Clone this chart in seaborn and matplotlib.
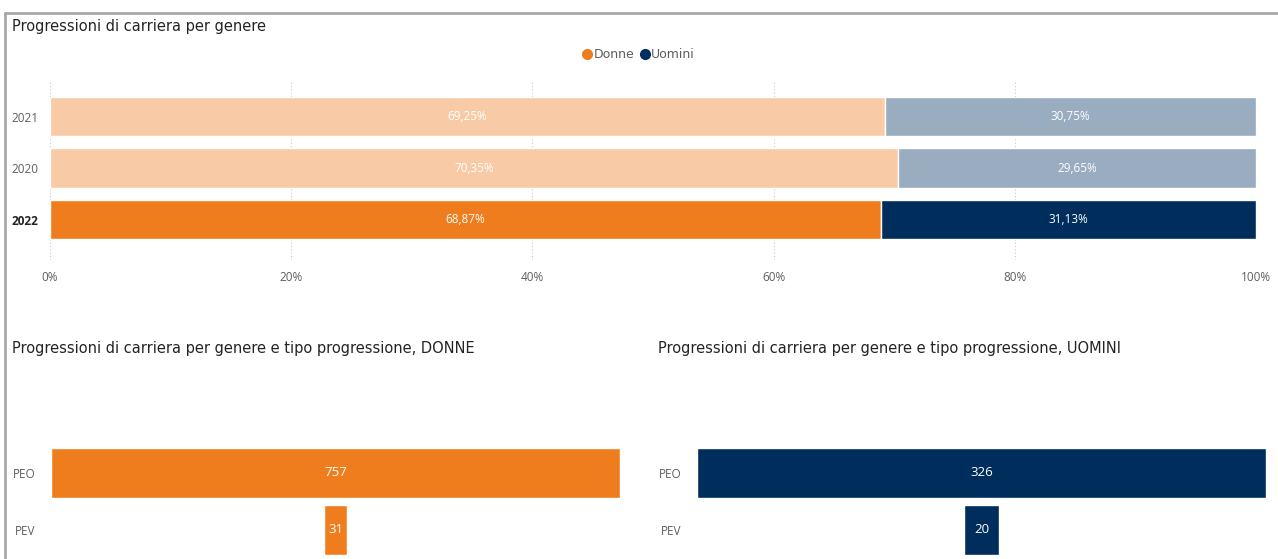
import matplotlib
matplotlib.use("Agg")
import matplotlib.pyplot as plt
from matplotlib.lines import Line2D
import seaborn as sns

# dati
anni = ["2021", "2020", "2022"]
donne_pct = [69.25, 70.35, 68.87]
uomini_pct = [30.75, 29.65, 31.13]
tipi = ["PEO", "PEV"]
donne_tipo = [757, 31]
uomini_tipo = [326, 20]
x_ticks = [0, 20, 40, 60, 80, 100]

ORANGE = "#EF7D1E"
ORANGE_LT = "#F8CBA6"
NAVY = "#002E5C"
NAVY_LT = "#9AACC0"
GREY = "#605E5C"
LBL_FONT = ["Open Sans", "DejaVu Sans"]

sns.set_theme(style="white")
plt.rcParams["font.family"] = ["Liberation Sans Narrow", "DejaVu Sans"]

W, H = 1278, 559
fig = plt.figure(figsize=(W / 100, H / 100), dpi=100)


def pct(v):
    return f"{v:.2f}".replace(".", ",") + "%"


# cornice del visual
fig.add_artist(Line2D([5 / W, 1], [1 - 13 / H] * 2, color="#A8A8A8", lw=2))
fig.add_artist(Line2D([5 / W, 5 / W], [0, 1 - 13 / H], color="#A8A8A8", lw=2))

# ---- grafico in alto: barre 100% in pila ----
ax = fig.add_axes([50 / W, 1 - 260 / H, 1206 / W, 180 / H])
pos = list(range(len(anni)))
for i, anno in enumerate(anni):
    latest = anno == "2022"
    c_d = ORANGE if latest else ORANGE_LT
    c_u = NAVY if latest else NAVY_LT
    ax.barh(i, donne_pct[i], height=0.76, color=c_d, zorder=2)
    ax.barh(i, uomini_pct[i], left=donne_pct[i], height=0.76, color=c_u, zorder=2)
    ax.text(donne_pct[i] / 2, i, pct(donne_pct[i]), ha="center", va="center",
            color="white", fontsize=8.5, family=LBL_FONT)
    ax.text(donne_pct[i] + uomini_pct[i] / 2, i, pct(uomini_pct[i]), ha="center",
            va="center", color="white", fontsize=8.5, family=LBL_FONT)

ax.set_xlim(0, 100)
ax.set_ylim(2.786, -0.709)
ax.set_yticks(pos)
ax.set_yticklabels(anni, fontsize=8.5, family=LBL_FONT)
for lbl in ax.get_yticklabels():
    if lbl.get_text() == "2022":
        lbl.set_fontweight("bold")
        lbl.set_color("#252423")
    else:
        lbl.set_color(GREY)
ax.set_xticks(x_ticks)
ax.set_xticklabels([f"{t}%" for t in x_ticks], fontsize=8.5, color=GREY, family=LBL_FONT)
ax.tick_params(axis="x", length=0, pad=8)
ax.tick_params(axis="y", length=0, pad=8)
ax.grid(axis="x", color="#C8C8C8", linestyle=(0, (1, 2)), lw=0.8, zorder=0)
ax.grid(axis="y", visible=False)
sns.despine(ax=ax, left=True, bottom=True)

fig.text(12 / W, 1 - 27 / H, "Progressioni di carriera per genere", fontsize=10.5,
         color="#252423", va="center", ha="left")

handles = [Line2D([], [], marker="o", ls="", color=ORANGE, markersize=7),
           Line2D([], [], marker="o", ls="", color=NAVY, markersize=7)]
fig.legend(handles, ["Donne", "Uomini"], loc="center", bbox_to_anchor=(0.5, 1 - 55 / H),
           ncol=2, frameon=False, handletextpad=0.15, columnspacing=0.5,
           handlelength=0.7, prop={"size": 9}, labelcolor=GREY)


# ---- grafici a imbuto in basso ----
def funnel(left_px, valori, colore, titolo, title_x):
    axf = fig.add_axes([left_px / W, 0, 569 / W, 119 / H])
    vmax = max(valori)
    for i, v in enumerate(valori):
        axf.barh(i, v, left=(vmax - v) / 2, height=0.885, color=colore)
        axf.text(vmax / 2, i, str(v), ha="center", va="center", color="white",
                 fontsize=9.5, family=LBL_FONT)
    axf.set_xlim(0, vmax)
    axf.set_ylim(1.522, -0.584)
    axf.set_yticks(range(len(tipi)))
    axf.set_yticklabels(tipi, fontsize=8.5, color=GREY, family=LBL_FONT)
    axf.set_xticks([])
    axf.tick_params(axis="y", length=0, pad=11)
    axf.grid(False)
    sns.despine(ax=axf, left=True, bottom=True)
    fig.text(title_x / W, 1 - 348 / H, titolo, fontsize=10.5, color="#252423",
             va="center", ha="left")


funnel(51, donne_tipo, ORANGE,
       "Progressioni di carriera per genere e tipo progressione, DONNE", 12)
funnel(697, uomini_tipo, NAVY,
       "Progressioni di carriera per genere e tipo progressione, UOMINI", 658)

fig.savefig("out.png", dpi=100, facecolor="white")
